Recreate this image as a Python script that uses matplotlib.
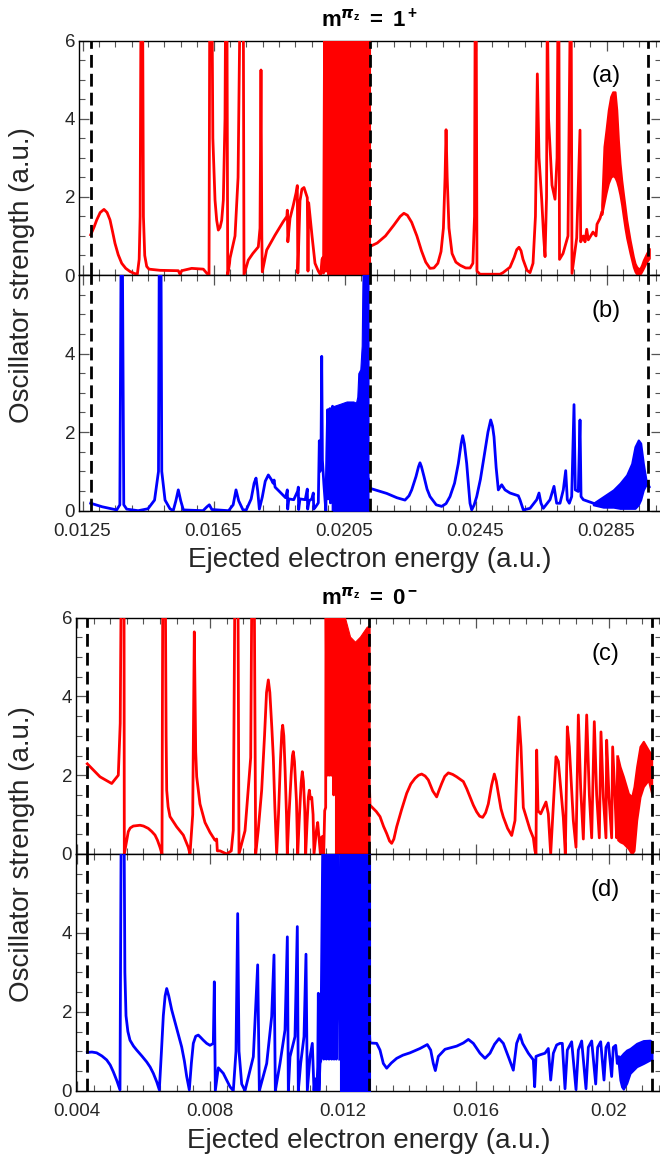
import matplotlib
matplotlib.use("Agg")
import matplotlib.pyplot as plt
import matplotlib.ticker as ticker

plt.rcParams['font.family'] = ['Liberation Sans', 'DejaVu Sans']
plt.rcParams['mathtext.fontset'] = 'custom'
plt.rcParams['mathtext.rm'] = 'Liberation Sans'
plt.rcParams['mathtext.it'] = 'Liberation Sans:italic'
plt.rcParams['mathtext.bf'] = 'Liberation Sans:bold'

# ---------------- panel (a): m = 1+, red ----------------
a1_e = [0.012750, 0.012850, 0.012934, 0.013040, 0.013156, 0.013250, 0.013340, 0.013420, 0.013492, 0.013590,
        0.013697, 0.013820, 0.013950, 0.014080, 0.014174, 0.014230, 0.014260, 0.014285, 0.014335, 0.014360,
        0.014400, 0.014460, 0.014530, 0.014866, 0.015425, 0.015477, 0.015530, 0.015834, 0.016189, 0.016311,
        0.016363, 0.016385, 0.016454, 0.016480, 0.016546, 0.016597, 0.016647, 0.016700, 0.016750, 0.016800,
        0.016851, 0.016870, 0.016910, 0.016934, 0.016990, 0.017004, 0.017157, 0.017250, 0.017310, 0.017410,
        0.017431, 0.017561, 0.017700, 0.017868, 0.017920, 0.017950, 0.017975, 0.017990, 0.018124, 0.018378,
        0.018631, 0.018740, 0.018754, 0.018770, 0.018836, 0.018937, 0.019020, 0.019059, 0.019075, 0.019141,
        0.019200, 0.019263, 0.019364, 0.019385, 0.019406, 0.019508, 0.019599, 0.019700, 0.019773, 0.019813,
        0.019844, 0.019860, 0.019895, 0.019915, 0.019945, 0.019965, 0.019990, 0.020010]
a1_f = [1.03, 1.22, 1.41, 1.60, 1.68, 1.60, 1.41, 1.10, 0.81, 0.52,
        0.30, 0.17, 0.09, 0.04, 0.02, 0.4, 1.5, 7.0, 7.0, 1.5,
        0.5, 0.22, 0.15, 0.12, 0.11, 0.02, 0.11, 0.17, 0.15, 0.03,
        0.0, 7.0, 7.0, 3.5, 1.92, 1.4, 1.15, 1.22, 1.4, 1.92,
        4.0, 7.0, 7.0, 0.0, 0.3, 0.43, 1.0, 2.5, 7.0, 7.0,
        0.0, 0.38, 0.55, 0.72, 1.2, 5.25, 1.0, 0.08, 0.64, 1.02,
        1.37, 1.5, 1.66, 0.85, 1.45, 1.79, 2.1, 2.29, 0.05, 1.9,
        2.2, 2.24, 1.98, 0.1, 1.85, 1.0, 0.3, 0.1, 0.0, 0.4,
        0.45, 0.05, 7.0, 0.1, 7.0, 0.1, 7.0, 0.0]
a_dense_e = [0.020010, 0.021279]
a_dense_top = [7.0, 7.0]
a2_e = [0.021279, 0.021500, 0.021750, 0.022000, 0.022200, 0.022313, 0.022420, 0.022550, 0.022710, 0.022850,
        0.022980, 0.023111, 0.023230, 0.023350, 0.023447, 0.023520, 0.023570, 0.023601, 0.023635, 0.023690,
        0.023784, 0.023900, 0.024030, 0.024200, 0.024336, 0.024420, 0.024470, 0.024490, 0.024520, 0.024545,
        0.024637, 0.025248, 0.025340, 0.025554, 0.025680, 0.025760, 0.025828, 0.025890, 0.025951, 0.026072,
        0.026164, 0.026256, 0.026330, 0.026388, 0.026440, 0.026522, 0.026580, 0.026623, 0.026669, 0.026693,
        0.026730, 0.026836, 0.026928, 0.026990, 0.027020, 0.027045, 0.027065, 0.027172, 0.027324, 0.027395,
        0.027420, 0.027446, 0.027590, 0.027691, 0.027712, 0.027792, 0.027844, 0.027896, 0.027944, 0.028088,
        0.028180, 0.028210, 0.028302, 0.028353]
a2_f = [0.73, 0.82, 1.0, 1.27, 1.5, 1.58, 1.53, 1.35, 1.0, 0.62,
        0.33, 0.17, 0.18, 0.3, 0.6, 1.2, 2.5, 3.72, 2.5, 1.2,
        0.55, 0.33, 0.25, 0.18, 0.18, 0.3, 1.5, 7.0, 7.0, 0.1,
        0.02, 0.02, 0.06, 0.2, 0.45, 0.65, 0.71, 0.62, 0.4, 0.12,
        0.06, 0.3, 1.5, 5.15, 3.0, 1.92, 1.0, 0.47, 2.0, 7.0,
        4.0, 2.3, 1.94, 3.0, 7.0, 7.0, 0.4, 0.55, 1.0, 7.0,
        7.0, 0.04, 0.95, 3.71, 0.85, 1.0, 0.85, 1.17, 0.9, 1.1,
        1.0, 1.3, 1.45, 1.6]
a_band_e = [0.028353, 0.028424, 0.028485, 0.028556, 0.028627, 0.028689, 0.028760, 0.028811, 0.028861, 0.028912,
            0.028963, 0.029013, 0.029065, 0.029116, 0.029218, 0.029319, 0.029370, 0.029422, 0.029471, 0.029523,
            0.029574, 0.029624, 0.029675, 0.029726, 0.029806]
a_band_hi = [1.80, 3.29, 3.71, 4.23, 4.57, 4.69, 4.69, 4.23, 3.46, 2.86,
             2.43, 2.09, 1.75, 1.41, 0.90, 0.47, 0.30, 0.21, 0.17, 0.17,
             0.26, 0.38, 0.47, 0.56, 0.68]
a_band_lo = [1.55, 1.85, 2.10, 2.35, 2.50, 2.55, 2.50, 2.40, 2.25, 2.05,
             1.80, 1.50, 1.20, 0.95, 0.56, 0.21, 0.09, 0.02, 0.0, 0.02,
             0.09, 0.17, 0.26, 0.34, 0.43]

# ---------------- panel (b): m = 1+, blue ----------------
b1_e = [0.012750, 0.013100, 0.013544, 0.013640, 0.013680, 0.013715, 0.013760, 0.013850, 0.014200, 0.014500,
        0.014700, 0.014820, 0.014845, 0.014895, 0.014920, 0.015020, 0.015170, 0.015270, 0.015350, 0.015425,
        0.015500, 0.015580, 0.016180, 0.016300, 0.016372, 0.016450, 0.016960, 0.017100, 0.017187, 0.017270,
        0.017400, 0.017500, 0.017650, 0.017740, 0.017798, 0.017850, 0.017900, 0.017990, 0.018080, 0.018174,
        0.018260, 0.018320, 0.018350, 0.018380, 0.018500, 0.018700, 0.018754, 0.018765, 0.018800, 0.018950,
        0.019070, 0.019090, 0.019100, 0.019140, 0.019300, 0.019364, 0.019375, 0.019420, 0.019500, 0.019547,
        0.019560, 0.019620, 0.019700, 0.019731, 0.019750, 0.019780, 0.019804, 0.019825, 0.019870, 0.019930,
        0.019960, 0.019985, 0.020000, 0.020030, 0.020055, 0.020070, 0.020110, 0.020135, 0.020150]
b1_f = [0.19, 0.1, 0.02, 0.15, 7.0, 7.0, 0.15, 0.04, 0.0, 0.05,
        0.27, 1.0, 7.0, 7.0, 1.0, 0.27, 0.05, 0.0, 0.25, 0.53,
        0.25, 0.02, 0.0, 0.1, 0.15, 0.03, 0.0, 0.15, 0.53, 0.25,
        0.02, 0.02, 0.3, 0.7, 0.83, 0.5, 0.04, 0.35, 0.75, 0.91,
        0.8, 0.7, 0.78, 0.6, 0.5, 0.33, 0.53, 0.04, 0.3, 0.28,
        0.5, 0.6, 0.03, 0.3, 0.28, 0.55, 0.04, 0.25, 0.3, 0.45,
        0.04, 0.1, 0.2, 1.78, 1.0, 1.2, 3.93, 1.29, 0.68, 0.0,
        1.5, 2.57, 0.3, 1.5, 2.6, 0.2, 1.5, 2.66, 0.0]
b_dense_e = [0.020150, 0.020363, 0.020567, 0.020769, 0.020851, 0.020891, 0.020922, 0.020983, 0.021025, 0.021065,
             0.021233]
b_dense_top = [2.66, 2.72, 2.78, 2.78, 2.75, 2.9, 3.5, 3.6, 4.2, 7.0, 7.0]
b2_e = [0.021233, 0.021279, 0.021789, 0.022100, 0.022347, 0.022470, 0.022552, 0.022683, 0.022760, 0.022805,
        0.022850, 0.022927, 0.023020, 0.023111, 0.023300, 0.023468, 0.023600, 0.023721, 0.023860, 0.023975,
        0.024060, 0.024109, 0.024160, 0.024231, 0.024290, 0.024332, 0.024384, 0.024460, 0.024537, 0.024650,
        0.024760, 0.024880, 0.024964, 0.025020, 0.025065, 0.025130, 0.025197, 0.025300, 0.025401, 0.025554,
        0.025807, 0.025857, 0.025960, 0.026164, 0.026369, 0.026439, 0.026500, 0.026570, 0.026775, 0.026897,
        0.026978, 0.027080, 0.027181, 0.027254, 0.027303, 0.027364, 0.027437, 0.027508, 0.027547, 0.027639,
        0.027691, 0.027722, 0.027792, 0.028097]
b2_f = [0.8, 0.57, 0.44, 0.33, 0.27, 0.38, 0.53, 0.87, 1.12, 1.22,
        1.12, 0.87, 0.55, 0.36, 0.15, 0.11, 0.18, 0.36, 0.7, 1.2,
        1.7, 1.91, 1.7, 1.2, 0.6, 0.19, 0.02, 0.15, 0.36, 0.8,
        1.37, 2.0, 2.31, 2.15, 1.88, 1.1, 0.53, 0.66, 0.53, 0.45,
        0.38, 0.28, 0.02, 0.06, 0.28, 0.45, 0.19, 0.06, 0.28, 0.62,
        0.19, 0.19, 0.53, 1.02, 0.28, 0.19, 0.36, 2.70, 0.53, 0.49,
        2.31, 0.36, 0.28, 0.19]
b_band_e = [0.028097, 0.028403, 0.028708, 0.028912, 0.029116, 0.029269, 0.029370, 0.029471, 0.029543, 0.029624,
            0.029706, 0.029806]
b_band_hi = [0.19, 0.36, 0.53, 0.70, 0.91, 1.20, 1.63, 1.80, 1.72, 1.20, 0.78, 0.61]
b_band_lo = [0.15, 0.09, 0.09, 0.06, 0.06, 0.06, 0.06, 0.15, 0.28, 0.53, 0.66, 0.61]

# ---------------- panel (c): m = 0-, red ----------------
c1_e = [0.004310, 0.004692, 0.005044, 0.005242, 0.005300, 0.005330, 0.005414, 0.005423, 0.005543, 0.005600,
        0.005693, 0.005895, 0.006000, 0.006144, 0.006250, 0.006346, 0.006420, 0.006496, 0.006556, 0.006580,
        0.006656, 0.006680, 0.006698, 0.006740, 0.006797, 0.006998, 0.007197, 0.007347, 0.007398, 0.007480,
        0.007528, 0.007570, 0.007600, 0.007699, 0.007850, 0.008000, 0.008150, 0.008201, 0.008220, 0.008300,
        0.008502, 0.008640, 0.008700, 0.008750, 0.008840, 0.008872, 0.009053, 0.009224, 0.009260, 0.009330,
        0.009374, 0.009450, 0.009554, 0.009640, 0.009700, 0.009754, 0.009800, 0.009860, 0.009904, 0.009950,
        0.010005, 0.010060, 0.010120, 0.010160, 0.010186, 0.010220, 0.010260, 0.010300, 0.010325, 0.010370,
        0.010440, 0.010480, 0.010505, 0.010540, 0.010600, 0.010638, 0.010680, 0.010740, 0.010776, 0.010810,
        0.010850, 0.010878, 0.010920, 0.010960, 0.010987, 0.011020, 0.011060, 0.011100, 0.011128, 0.011200,
        0.011239, 0.011290, 0.011320, 0.011350, 0.011390, 0.011420, 0.011450, 0.011479, 0.011489, 0.011520,
        0.011559, 0.011585, 0.011609, 0.011650, 0.011689, 0.011720, 0.011760]
c1_f = [2.29, 1.96, 1.79, 2.0, 3.32, 7.0, 7.0, 0.0, 0.57, 0.66,
        0.71, 0.73, 0.71, 0.65, 0.57, 0.48, 0.35, 0.17, 0.0, 7.0,
        7.0, 3.0, 1.62, 1.2, 0.95, 0.69, 0.48, 0.17, 0.0, 1.0,
        5.64, 2.6, 1.96, 1.27, 0.80, 0.55, 0.35, 0.38, 0.08, 0.08,
        0.0, 0.08, 0.6, 7.0, 7.0, 0.0, 0.59, 2.45, 7.0, 7.0,
        0.0, 0.6, 1.62, 3.0, 4.1, 4.42, 4.1, 3.2, 2.45, 1.2,
        0.0, 1.0, 2.4, 3.1, 3.27, 3.0, 2.1, 1.0, 0.0, 0.9,
        2.0, 2.5, 2.60, 2.35, 1.35, 0.0, 0.8, 1.8, 2.09, 1.85,
        1.1, 0.0, 0.8, 1.45, 1.62, 1.4, 1.44, 1.0, 0.0, 0.59,
        0.80, 0.3, 0.0, 0.42, 0.45, 0.0, 1.1, 1.18, 7.0, 2.0,
        7.0, 2.0, 7.0, 2.0, 7.0, 1.5, 7.0]
c_dense_e = [0.011760, 0.011950, 0.012060, 0.012211, 0.012361, 0.012511, 0.012713, 0.012800]
c_dense_top = [7.0, 7.0, 6.0, 5.52, 5.39, 5.52, 5.77, 5.8]
c2_e = [0.012800, 0.012812, 0.013000, 0.013113, 0.013220, 0.013314, 0.013400, 0.013464, 0.013530, 0.013614,
        0.013760, 0.013915, 0.014040, 0.014165, 0.014270, 0.014366, 0.014470, 0.014566, 0.014700, 0.014817,
        0.014880, 0.014968, 0.015060, 0.015168, 0.015300, 0.015419, 0.015619, 0.015720, 0.015820, 0.015920,
        0.016020, 0.016110, 0.016201, 0.016290, 0.016370, 0.016470, 0.016551, 0.016610, 0.016671, 0.016750,
        0.016821, 0.016950, 0.017073, 0.017173, 0.017253, 0.017293, 0.017353, 0.017423, 0.017624, 0.017724,
        0.017774, 0.017804, 0.017825, 0.017865, 0.017945, 0.018105, 0.018175, 0.018246, 0.018406, 0.018476,
        0.018626, 0.018686, 0.018747, 0.018807, 0.018927, 0.019008, 0.019078, 0.019148, 0.019228, 0.019329,
        0.019409, 0.019479, 0.019558, 0.019629, 0.019709, 0.019759, 0.019829, 0.019909, 0.019930, 0.020000,
        0.020080, 0.020110, 0.020180, 0.020230, 0.020261]
c2_f = [1.6, 1.24, 1.08, 0.95, 0.7, 0.52, 0.33, 0.27, 0.38, 0.69,
        1.12, 1.54, 1.78, 1.92, 2.0, 2.03, 1.98, 1.88, 1.6, 1.45,
        1.6, 1.79, 1.97, 2.06, 2.02, 1.96, 1.84, 1.66, 1.45, 1.24,
        1.07, 0.96, 0.93, 1.05, 1.27, 1.75, 2.03, 1.85, 1.54, 1.15,
        0.94, 0.65, 0.47, 0.85, 2.72, 3.48, 2.72, 1.18, 0.62, 0.41,
        0.08, 0.0, 2.64, 1.1, 1.02, 1.32, 1.02, 0.0, 2.47, 2.35,
        0.93, 0.0, 3.23, 2.72, 0.85, 0.17, 3.53, 1.67, 0.38, 3.53,
        1.5, 0.41, 3.36, 1.5, 0.41, 3.1, 1.45, 0.41, 2.89, 1.45,
        0.41, 2.72, 1.45, 0.41, 2.47]
c_band_e = [0.020261, 0.020331, 0.020431, 0.020581, 0.020682, 0.020752, 0.020832, 0.020932, 0.021032, 0.021183,
            0.021283]
c_band_hi = [2.47, 2.22, 1.97, 1.54, 1.45, 1.71, 2.22, 2.73, 2.86, 2.64, 2.51]
c_band_lo = [0.36, 0.31, 0.27, 0.14, 0.0, 0.09, 0.86, 1.45, 1.71, 1.88, 1.54]

# ---------------- panel (d): m = 0-, blue ----------------
d1_e = [0.004310, 0.004450, 0.004592, 0.004750, 0.004893, 0.005000, 0.005092, 0.005200, 0.005293, 0.005330,
        0.005414, 0.005440, 0.005474, 0.005530, 0.005594, 0.005700, 0.005795, 0.005950, 0.006096, 0.006200,
        0.006296, 0.006400, 0.006476, 0.006540, 0.006596, 0.006650, 0.006698, 0.006760, 0.006848, 0.006998,
        0.007148, 0.007230, 0.007299, 0.007378, 0.007440, 0.007498, 0.007570, 0.007648, 0.007720, 0.007799,
        0.007900, 0.008000, 0.008100, 0.008130, 0.008160, 0.008250, 0.008400, 0.008602, 0.008701, 0.008782,
        0.008833, 0.008872, 0.008953, 0.009053, 0.009303, 0.009434, 0.009484, 0.009705, 0.009855, 0.009925,
        0.009965, 0.010105, 0.010256, 0.010326, 0.010356, 0.010406, 0.010556, 0.010626, 0.010656, 0.010727,
        0.010827, 0.010887, 0.010927, 0.011008, 0.011077, 0.011128, 0.011150, 0.011180, 0.011210, 0.011240,
        0.011258, 0.011278, 0.011308, 0.011330, 0.011399, 0.011420, 0.011479, 0.011500, 0.011559, 0.011580,
        0.011639, 0.011660, 0.011709, 0.011730, 0.011780, 0.011800, 0.011859, 0.011900]
d1_f = [0.97, 0.98, 0.96, 0.88, 0.78, 0.65, 0.48, 0.25, 0.02, 7.0,
        7.0, 3.0, 1.9, 1.5, 1.28, 1.13, 1.03, 0.88, 0.73, 0.6,
        0.44, 0.22, 0.02, 1.0, 1.9, 2.4, 2.59, 2.4, 2.05, 1.58,
        1.11, 0.75, 0.36, 0.02, 0.7, 1.2, 1.38, 1.41, 1.35, 1.28,
        1.2, 1.15, 1.2, 2.76, 0.0, 0.58, 0.44, 0.1, 0.0, 1.0,
        4.49, 1.0, 0.17, 0.0, 0.86, 3.19, 0.0, 0.69, 1.88, 3.44,
        0.0, 0.69, 1.54, 3.9, 0.0, 0.86, 1.37, 4.16, 0.0, 0.69,
        1.37, 3.46, 0.0, 0.86, 1.2, 0.0, 0.25, 0.3, 0.0, 0.6,
        2.47, 0.0, 0.69, 0.75, 7.0, 0.8, 7.0, 0.8, 7.0, 0.8,
        7.0, 0.8, 7.0, 0.8, 7.0, 0.8, 7.0, 0.8]
d_dense_e = [0.011900, 0.012800]
d_dense_top = [7.0, 7.0]
d2_e = [0.012800, 0.012812, 0.013013, 0.013113, 0.013213, 0.013314, 0.013450, 0.013614, 0.013800, 0.014015,
        0.014316, 0.014536, 0.014637, 0.014716, 0.014777, 0.014867, 0.015068, 0.015419, 0.015619, 0.015770,
        0.015920, 0.016120, 0.016271, 0.016421, 0.016560, 0.016692, 0.016822, 0.016992, 0.017122, 0.017223,
        0.017323, 0.017403, 0.017574, 0.017724, 0.017764, 0.017805, 0.017925, 0.018075, 0.018175, 0.018246,
        0.018326, 0.018426, 0.018526, 0.018596, 0.018677, 0.018747, 0.018877, 0.019008, 0.019078, 0.019178,
        0.019308, 0.019378, 0.019479, 0.019600, 0.019659, 0.019750, 0.019850, 0.019910, 0.019980, 0.020080,
        0.020130, 0.020201, 0.020250, 0.020281]
d2_f = [1.4, 1.21, 1.2, 1.03, 0.69, 0.57, 0.7, 0.82, 0.9, 0.96,
        1.07, 1.17, 1.03, 0.69, 0.51, 0.87, 1.05, 1.13, 1.21, 1.30,
        1.2, 0.95, 0.82, 0.95, 1.18, 1.32, 1.2, 0.82, 0.52, 1.2,
        1.42, 1.2, 0.95, 0.78, 0.1, 0.87, 0.91, 0.95, 1.07, 0.27,
        0.95, 1.16, 1.2, 1.2, 0.05, 1.03, 1.24, 0.03, 1.03, 1.26,
        0.05, 1.1, 1.26, 0.17, 1.1, 1.24, 0.27, 1.1, 1.21, 0.36,
        1.1, 1.15, 0.69, 0.86]
d_band_e = [0.020281, 0.020331, 0.020381, 0.020431, 0.020532, 0.020632, 0.020832, 0.021032, 0.021233, 0.021293]
d_band_hi = [0.86, 0.86, 0.90, 0.95, 1.03, 1.07, 1.20, 1.27, 1.28, 1.24]
d_band_lo = [0.69, 0.27, 0.10, 0.04, 0.19, 0.44, 0.61, 0.69, 0.78, 0.78]

# thresholds (dashed lines) and axis ticks
top_thresholds = [0.01275, 0.02128, 0.02976]
bot_thresholds = [0.00431, 0.01279, 0.02128]
top_xticks = [0.0125, 0.0165, 0.0205, 0.0245, 0.0285]
top_xticklabels = ['0.0125', '0.0165', '0.0205', '0.0245', '0.0285']
bot_xticks = [0.004, 0.008, 0.012, 0.016, 0.020]
bot_xticklabels = ['0.004', '0.008', '0.012', '0.016', '0.02']
top_xlim = (0.012402, 0.030164)
bot_xlim = (0.003979, 0.021564)

RED = (1, 0, 0)
BLUE = (0, 0, 1)
LW = 2.0

W, H = 660.0, 1161.0


def make_axes(fig, left, top, bottom, right=661.0):
    return fig.add_axes([left / W, 1 - bottom / H, (right - left) / W, (bottom - top) / H])


def style(ax, xlim, xticks, xticklabels, show_xlabels, hide_top_ylabel):
    ax.set_xlim(*xlim)
    ax.set_ylim(0, 6)
    ax.xaxis.set_major_locator(ticker.FixedLocator(xticks))
    ax.xaxis.set_minor_locator(ticker.MultipleLocator(0.0005))
    ax.yaxis.set_major_locator(ticker.FixedLocator([0, 2, 4, 6]))
    ax.yaxis.set_minor_locator(ticker.MultipleLocator(0.5))
    if show_xlabels:
        ax.set_xticklabels(xticklabels)
    else:
        ax.set_xticklabels([])
    ylabels = ['0', '2', '4', '' if hide_top_ylabel else '6']
    ax.set_yticklabels(ylabels)
    ax.tick_params(which='both', direction='in', top=True, right=True, colors='#555555',
                   labelcolor='#262626', labelsize=13.5)
    ax.tick_params(which='major', length=7, width=0.9)
    ax.tick_params(which='minor', length=4, width=0.8)
    ax.tick_params(axis='x', pad=9)
    ax.tick_params(axis='y', pad=3)
    for sp in ax.spines.values():
        sp.set_linewidth(1.0)
        sp.set_color('black')


def dashes(ax, xs):
    for xv in xs:
        ax.axvline(xv, color='black', lw=2.0, linestyle=(0, (4.6, 2.2)), zorder=5)


def panel(ax, color, pieces, dense, band, label):
    for e, f in pieces:
        ax.plot(e, f, color=color, lw=LW, zorder=3)
    de, dt = dense
    ax.fill_between(de, 0, dt, color=color, lw=0.8, edgecolor=color, zorder=3)
    be, blo, bhi = band
    ax.fill_between(be, blo, bhi, color=color, lw=1.5, edgecolor=color, zorder=3)
    ax.text(0.905, 0.848, label, transform=ax.transAxes, ha='center', va='center', fontsize=17, color='black')


fig = plt.figure(figsize=(6.6, 11.61), dpi=100)

ax_a = make_axes(fig, 79.3, 40.7, 275.0)
ax_b = make_axes(fig, 79.3, 275.0, 510.7)
ax_c = make_axes(fig, 76.3, 617.7, 854.0)
ax_d = make_axes(fig, 76.3, 854.0, 1090.7)

panel(ax_a, RED, [(a1_e, a1_f), (a2_e, a2_f)], (a_dense_e, a_dense_top), (a_band_e, a_band_lo, a_band_hi), '(a)')
panel(ax_b, BLUE, [(b1_e, b1_f), (b2_e, b2_f)], (b_dense_e, b_dense_top), (b_band_e, b_band_lo, b_band_hi), '(b)')
panel(ax_c, RED, [(c1_e, c1_f), (c2_e, c2_f)], (c_dense_e, c_dense_top), (c_band_e, c_band_lo, c_band_hi), '(c)')
panel(ax_d, BLUE, [(d1_e, d1_f), (d2_e, d2_f)], (d_dense_e, d_dense_top), (d_band_e, d_band_lo, d_band_hi), '(d)')

style(ax_a, top_xlim, top_xticks, top_xticklabels, False, False)
style(ax_b, top_xlim, top_xticks, top_xticklabels, True, True)
style(ax_c, bot_xlim, bot_xticks, bot_xticklabels, False, False)
style(ax_d, bot_xlim, bot_xticks, bot_xticklabels, True, True)

for ax in (ax_a, ax_b):
    dashes(ax, top_thresholds)
for ax in (ax_c, ax_d):
    dashes(ax, bot_thresholds)

# panel group titles and shared axis labels
fig.text(370 / W, 1 - 20 / H, r'$\mathbf{m}^{\boldsymbol{\pi}_\mathbf{z}}\mathbf{\ =\ 1^+}$',
         ha='center', va='center', fontsize=16)
fig.text(370 / W, 1 - 598 / H, r'$\mathbf{m}^{\boldsymbol{\pi}_\mathbf{z}}\mathbf{\ =\ 0^-}$',
         ha='center', va='center', fontsize=16)
fig.text(370 / W, 1 - 560 / H, 'Ejected electron energy (a.u.)', ha='center', va='center',
         fontsize=20, color='#262626')
fig.text(369 / W, 1 - 1141 / H, 'Ejected electron energy (a.u.)', ha='center', va='center',
         fontsize=20, color='#262626')
fig.text(22 / W, 1 - 275 / H, 'Oscillator strength (a.u.)', ha='center', va='center',
         rotation=90, fontsize=20, color='#262626')
fig.text(22 / W, 1 - 854 / H, 'Oscillator strength (a.u.)', ha='center', va='center',
         rotation=90, fontsize=20, color='#262626')

fig.savefig('out.png', dpi=100)
